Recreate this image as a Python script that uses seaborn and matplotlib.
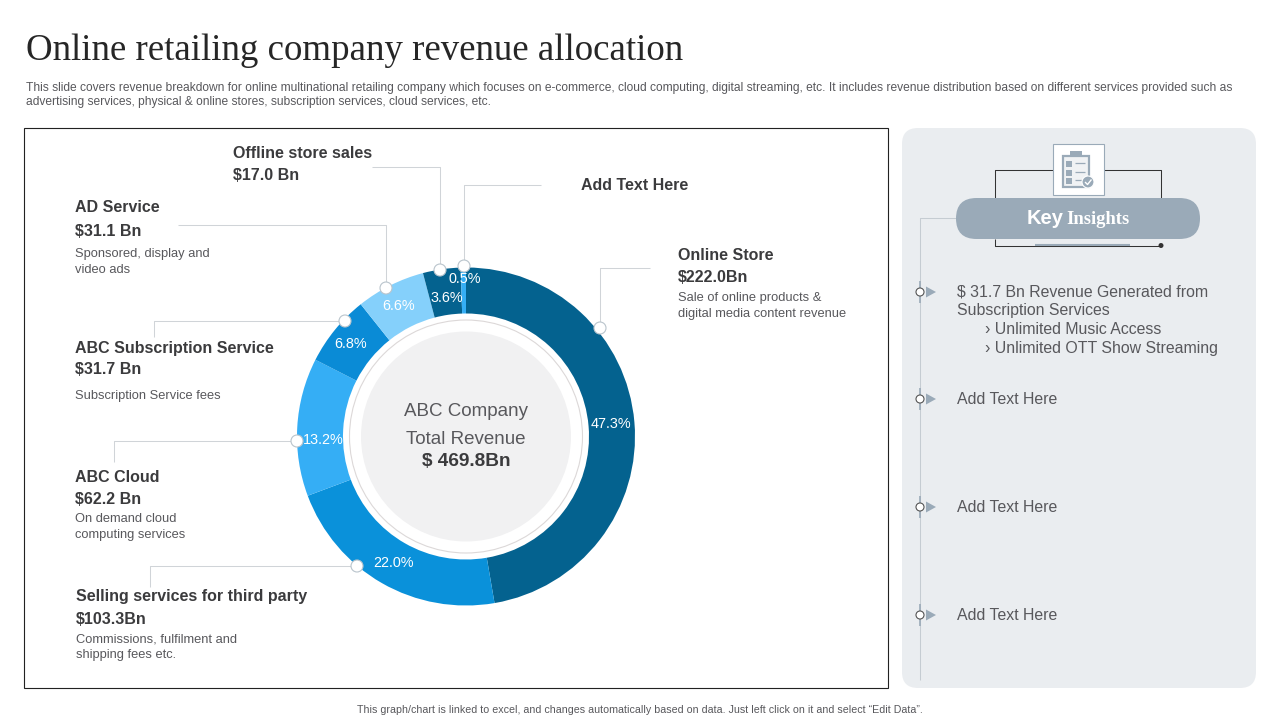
import matplotlib
matplotlib.use('Agg')
import matplotlib.pyplot as plt
from matplotlib.patches import Circle, FancyBboxPatch, Rectangle, Polygon
import seaborn as sns

# data
services = ['Online Store', 'Selling services for third party', 'ABC Cloud',
            'ABC Subscription Service', 'AD Service', 'Offline store sales', 'Add Text Here']
shares = [47.3, 22.0, 13.2, 6.8, 6.6, 3.6, 0.5]
share_labels = ['47.3%', '22.0%', '13.2%', '6.8%', '6.6%', '3.6%', '0.5%']
amounts = ['$222.0Bn', '$103.3Bn', '$62.2 Bn', '$31.7 Bn', '$31.1 Bn', '$17.0 Bn', '']
notes = ['Sale of online products &\ndigital media content revenue',
         'Commissions, fulfilment and\nshipping fees etc.',
         'On demand cloud\ncomputing services',
         'Subscription Service fees',
         'Sponsored, display and\nvideo ads',
         '', '']
insights = ['Add Text Here', 'Add Text Here', 'Add Text Here']

sns.set_theme(style='white')
plt.rcParams['font.family'] = ['Liberation Sans', 'DejaVu Sans']

DARK = '#3b3b3d'
GREY = '#58585c'
LINE = '#d0d4d8'
SLATE = '#9aaab8'
palette = sns.color_palette(['#04628f', '#0a91da', '#35aef5', '#0a8bd6', '#85d0fb', '#04628f', '#35aef5'])

fig = plt.figure(figsize=(12.8, 7.2), dpi=100)
ax = fig.add_axes([0, 0, 1, 1])
ax.set_xlim(0, 1280)
ax.set_ylim(0, 720)
ax.axis('off')


# the slide is measured from the top, matplotlib from the bottom
def Y(y):
    return 720 - y


def txt(x, y, s, size=10, color=DARK, weight='normal', **kw):
    kw.setdefault('va', 'center')
    return ax.text(x, Y(y + 1), s, fontsize=size, color=color, fontweight=weight, **kw)


def path(xs, ys, color=LINE, lw=0.75, z=2):
    ax.plot(xs, [Y(v) for v in ys], color=color, lw=lw, zorder=z, solid_capstyle='butt')


# title and header
txt(26, 50, 'Online retailing company revenue allocation', size=26.55, color='#262626',
    family='Liberation Serif')
txt(26, 87, 'This slide covers revenue breakdown for online multinational retailing company which focuses on '
    'e-commerce, cloud computing, digital streaming, etc. It includes revenue distribution based on different services provided such as',
    size=8.64, color=GREY)
txt(26, 101, 'advertising services, physical & online stores, subscription services, cloud services, etc.',
    size=8.64, color=GREY)
txt(640, 709, 'This graph/chart is linked to excel, and changes automatically based on data. Just left click on it and select \u201cEdit Data\u201d.',
    size=7.64, color=GREY, ha='center')

# chart frame
ax.add_patch(Rectangle((24, Y(688)), 864, 560, fc='white', ec='#222222', lw=0.8, zorder=1))

# donut
CX, CY, R = 466, 436.5, 169
ax.pie(shares, colors=palette, startangle=90, counterclock=False, center=(CX, Y(CY)), radius=R,
       wedgeprops=dict(width=R - 123, lw=0), frame=False)
ax.set_xlim(0, 1280)
ax.set_ylim(0, 720)
ax.set_aspect('auto')
ax.add_patch(Circle((CX, Y(CY)), 116.5, fc='white', ec='#dcd8d8', lw=0.8, zorder=3))
ax.add_patch(Circle((CX, Y(CY)), 105, fc='#f1f1f2', ec='none', zorder=4))
txt(CX, 410, 'ABC Company', size=13.5, color=GREY, ha='center', zorder=5)
txt(CX, 439, 'Total Revenue', size=13.5, color=GREY, ha='center', zorder=5)
txt(CX, 461, '$ 469.8Bn', size=13.7, color=DARK, weight='bold', ha='center', zorder=5)

# percentage labels
pct_pos = [(611, 423), (393, 562), (323, 439), (351, 343), (399, 305), (447, 297), (465, 278)]
for (px, py), lab in zip(pct_pos, share_labels):
    txt(px, py, lab, size=10.4, color='white', ha='center', zorder=6)

# leader lines, one per service: horizontal run then drop to the ring
leaders = [
    ([650, 600, 600], [268, 268, 328]),
    ([150, 150, 357], [587, 566, 566]),
    ([114, 114, 297], [462, 441, 441]),
    ([154, 154, 345], [337, 321, 321]),
    ([178, 386, 386], [225, 225, 288]),
    ([372, 440, 440], [167, 167, 270]),
    ([541, 464, 464], [185, 185, 266]),
]
for xs, ys in leaders:
    path(xs, ys)
    ax.add_patch(Circle((xs[-1], Y(ys[-1])), 6, fc='white', ec='#b9c4cc', lw=0.8, zorder=7))

# callout blocks: name, amount, note
blocks = [(678, 255, 277, 305), (76, 596, 618, 646), (75, 477, 498, 526),
          (75, 347, 369, 395), (75, 207, 230, 261), (233, 153, 175, None), (581, 184, None, None)]
for (x, y1, y2, y3), name, amt, note in zip(blocks, services, amounts, notes):
    txt(x, y1, name, size=11.5, weight='bold')
    if amt:
        txt(x, y2, amt, size=11.5, weight='bold')
    if note:
        txt(x, y3, note, size=9.3, color=GREY, linespacing=1.35)

# insight panel
ax.add_patch(FancyBboxPatch((902 + 16, Y(688) + 16), 354 - 32, 560 - 32,
                            boxstyle='round,pad=16,rounding_size=16', fc='#eaedf0', ec='none', zorder=1))
path([995, 995, 1161, 1161], [198, 170, 170, 198], color='#333333')
path([995, 995, 1161], [239, 245.5, 245.5], color='#333333')
ax.add_patch(Circle((1161, Y(245.5)), 2.5, fc='#333333', ec='none', zorder=3))
path([1035, 1130], [245, 245], color=SLATE, lw=1.5, z=3)
ax.add_patch(FancyBboxPatch((956 + 20.5, Y(239) + 20.5), 244 - 41, 41 - 41,
                            boxstyle='round,pad=20.5,rounding_size=20.5', fc=SLATE, ec='none', zorder=3))
txt(1027, 217, 'Key', size=14.5, color='white', weight='bold', zorder=4)
txt(1066, 218.5, 'Insights', size=13.4, color='white', weight='bold', family='Liberation Serif', zorder=4)

# clipboard icon
ax.add_patch(Rectangle((1053, Y(195)), 51, 51, fc='white', ec=SLATE, lw=0.8, zorder=3))
ax.add_patch(Rectangle((1063, Y(187)), 26, 31, fc='#f0f2f4', ec=SLATE, lw=1.6, zorder=4))
ax.add_patch(Rectangle((1070, Y(157)), 12, 6, fc=SLATE, ec='none', zorder=5))
for iy in (161, 170, 178):
    ax.add_patch(Rectangle((1066, Y(iy + 6)), 6, 6, fc=SLATE, ec='none', zorder=5))
    path([1075, 1085], [iy + 2, iy + 2], color=SLATE, lw=0.9, z=5)
ax.add_patch(Circle((1088, Y(182)), 6, fc=SLATE, ec='white', lw=0.8, zorder=6))
path([1085, 1087.5, 1091.5], [182, 184.5, 179.5], color='white', lw=1.0, z=7)

# timeline
path([956, 920, 920], [218, 218, 680], color='#c5ccd2')
for my in (292, 399, 507, 615):
    path([920, 920], [my - 11, my + 11], color=SLATE, lw=1.2, z=3)
    ax.add_patch(Circle((920, Y(my)), 4, fc='white', ec='#555555', lw=0.8, zorder=4))
    ax.add_patch(Polygon([(926, Y(my - 5.5)), (926, Y(my + 5.5)), (936, Y(my))], fc=SLATE, ec='none', zorder=4))

txt(957, 291, '$ 31.7 Bn Revenue Generated from', size=11.45, color=GREY)
txt(957, 309.5, 'Subscription Services', size=11.45, color=GREY)
txt(985, 328.5, '\u203a Unlimited Music Access', size=11.45, color=GREY)
txt(985, 347.5, '\u203a Unlimited OTT Show Streaming', size=11.45, color=GREY)
for y0, s in zip((398, 506, 614), insights):
    txt(957, y0, s, size=11.4, color=GREY)

fig.savefig('out.png', dpi=100)
